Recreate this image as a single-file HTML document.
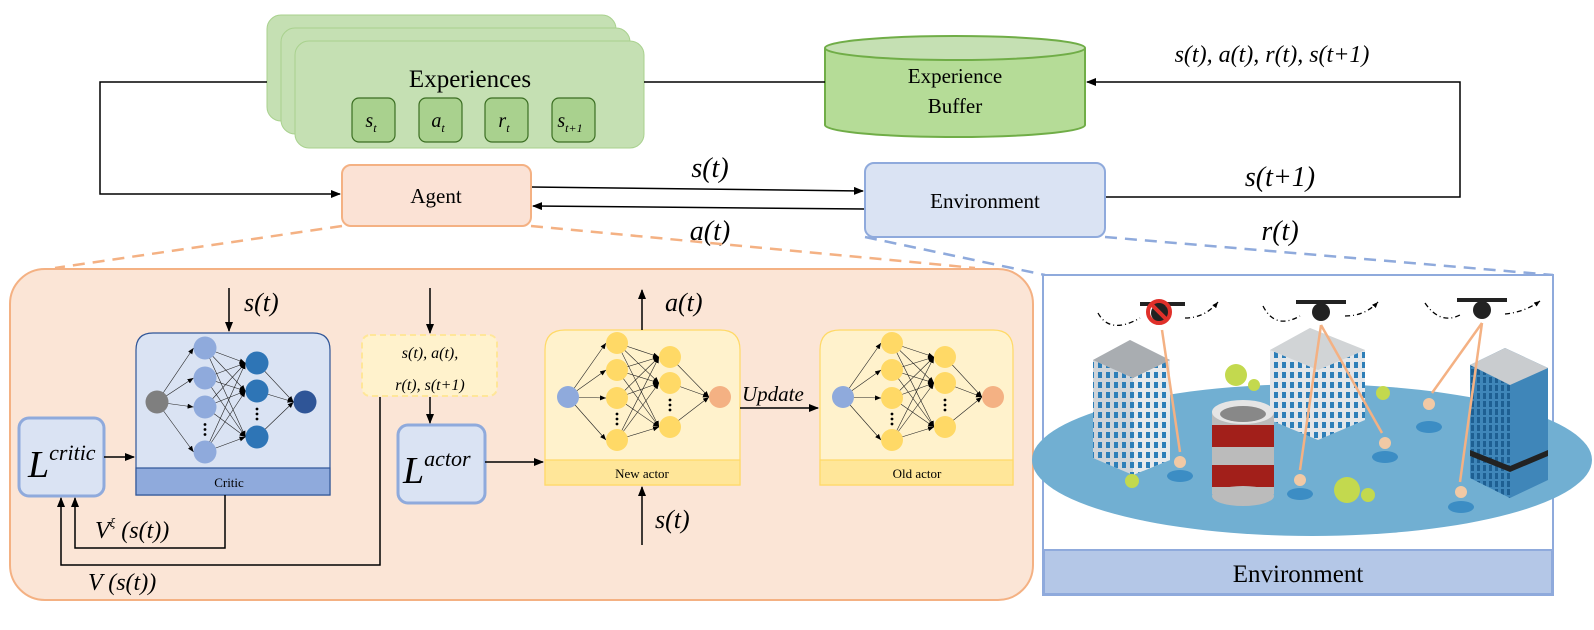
<!DOCTYPE html>
<html><head><meta charset="utf-8"><style>
body{margin:0;background:#fff}
svg{display:block;font-family:"Liberation Serif",serif}
.m{font-style:italic}
</style></head><body>
<svg id="s" width="1594" height="630" viewBox="0 0 1594 630" xmlns="http://www.w3.org/2000/svg">
<defs>
<marker id="a" markerWidth="10" markerHeight="8" refX="9" refY="4" orient="auto" markerUnits="userSpaceOnUse"><path d="M0,0L10,4L0,8z" fill="#000"/></marker>
<marker id="sa" markerWidth="6" markerHeight="5" refX="6" refY="2.5" orient="auto" markerUnits="userSpaceOnUse"><path d="M0,0L6,2.5L0,5z" fill="#000"/></marker>
<pattern id="win" width="8" height="10" patternUnits="userSpaceOnUse"><rect x="2" y="2" width="4" height="6" fill="#2e7fb8"/></pattern>
<pattern id="win2" width="6" height="8" patternUnits="userSpaceOnUse"><rect x="1" y="1" width="3" height="6" fill="#1e5f92"/></pattern>
</defs>
<!-- Experiences -->
<rect x="267" y="15" width="349" height="106" rx="14" fill="#c5e0b3" stroke="#a9d18e"/>
<rect x="281" y="28" width="349" height="106" rx="14" fill="#c5e0b3" stroke="#a9d18e"/>
<rect x="295" y="41" width="349" height="107" rx="14" fill="#c5e0b3" stroke="#a9d18e"/>
<text x="470" y="87" font-size="25" text-anchor="middle">Experiences</text>
<g fill="#a9d18e" stroke="#3b6e22" stroke-width="1.2">
<rect x="352" y="98" width="43" height="44" rx="7"/><rect x="419" y="98" width="43" height="44" rx="7"/>
<rect x="485" y="98" width="43" height="44" rx="7"/><rect x="552" y="98" width="43" height="44" rx="7"/></g>
<g class="m" font-size="20" text-anchor="middle">
<text x="371" y="127">s<tspan font-size="12" dy="5">t</tspan></text>
<text x="438" y="127">a<tspan font-size="12" dy="5">t</tspan></text>
<text x="504" y="127">r<tspan font-size="12" dy="5">t</tspan></text>
<text x="570" y="127">s<tspan font-size="12" dy="5">t+1</tspan></text></g>
<!-- Buffer cylinder -->
<path d="M825,48 L825,125 A130,12 0 0 0 1085,125 L1085,48" fill="#b5dc97" stroke="#70ad47" stroke-width="2"/>
<ellipse cx="955" cy="48" rx="130" ry="12" fill="#c5e0b3" stroke="#70ad47" stroke-width="2"/>
<text x="955" y="83" font-size="21" text-anchor="middle">Experience</text>
<text x="955" y="113" font-size="21" text-anchor="middle">Buffer</text>
<!-- top lines -->
<g stroke="#000" stroke-width="1.5" fill="none">
<polyline points="267,82 100,82 100,194 340,194" marker-end="url(#a)"/>
<line x1="825" y1="82" x2="644" y2="82"/>
<polyline points="1105,197 1460,197 1460,82 1087,82" marker-end="url(#a)"/>
<line x1="531" y1="187" x2="863" y2="191" marker-end="url(#a)"/>
<line x1="865" y1="209" x2="533" y2="206" marker-end="url(#a)"/>
</g>
<text x="1272" y="62" font-size="24" class="m" text-anchor="middle">s(t), a(t), r(t), s(t+1)</text>
<text x="710" y="177" font-size="28" class="m" text-anchor="middle">s(t)</text>
<text x="710" y="240" font-size="28" class="m" text-anchor="middle">a(t)</text>
<text x="1280" y="186" font-size="28" class="m" text-anchor="middle">s(t+1)</text>
<text x="1280" y="240" font-size="28" class="m" text-anchor="middle">r(t)</text>
<!-- Agent/Env -->
<rect x="342" y="165" width="189" height="61" rx="9" fill="#fbe2d5" stroke="#f4b183" stroke-width="2"/>
<text x="436" y="203" font-size="21" text-anchor="middle">Agent</text>
<rect x="865" y="163" width="240" height="74" rx="9" fill="#dae3f3" stroke="#8faadc" stroke-width="2"/>
<text x="985" y="208" font-size="21" text-anchor="middle">Environment</text>
<g stroke-width="2.5" stroke-dasharray="12,8" fill="none">
<line x1="342" y1="226" x2="55" y2="268" stroke="#f4b183"/>
<line x1="531" y1="226" x2="975" y2="268" stroke="#f4b183"/>
<line x1="865" y1="237" x2="1045" y2="275" stroke="#8faadc"/>
<line x1="1105" y1="237" x2="1553" y2="275" stroke="#8faadc"/>
</g>
<!-- Agent detail -->
<rect x="10" y="269" width="1023" height="331" rx="35" fill="#fbe5d6" stroke="#f4b183" stroke-width="2"/>
<path d="M136,495 L136,350 Q136,333 153,333 L313,333 Q330,333 330,350 L330,495Z" fill="#dae3f3" stroke="#2f5597" stroke-width="1.2"/>
<rect x="136" y="468" width="194" height="27" fill="#8faadc" stroke="#2f5597" stroke-width="1.2"/>
<text x="229" y="487" font-size="13" text-anchor="middle">Critic</text>
<path d="M545,485 L545,350 Q545,330 565,330 L720,330 Q740,330 740,350 L740,485Z" fill="#fff2cc" stroke="#ffd966" stroke-width="1.2"/>
<rect x="545" y="460" width="195" height="25" fill="#ffe699" stroke="#ffd966" stroke-width="1.2"/>
<text x="642" y="478" font-size="13" text-anchor="middle">New actor</text>
<path d="M820,485 L820,350 Q820,330 840,330 L993,330 Q1013,330 1013,350 L1013,485Z" fill="#fff2cc" stroke="#ffd966" stroke-width="1.2"/>
<rect x="820" y="460" width="193" height="25" fill="#ffe699" stroke="#ffd966" stroke-width="1.2"/>
<text x="917" y="478" font-size="13" text-anchor="middle">Old actor</text>
<g id="nets"></g>
<rect x="19" y="418" width="85" height="78" rx="10" fill="#dae3f3" stroke="#8faadc" stroke-width="3"/>
<text x="28" y="477" font-size="38" class="m">L<tspan font-size="22" dy="-17">critic</tspan></text>
<rect x="398" y="425" width="87" height="78" rx="10" fill="#dae3f3" stroke="#8faadc" stroke-width="3"/>
<text x="403" y="483" font-size="38" class="m">L<tspan font-size="22" dy="-17">actor</tspan></text>
<rect x="362" y="335" width="135" height="61" rx="8" fill="#fff2cc" stroke="#ffe699" stroke-width="2" stroke-dasharray="6,4"/>
<text x="430" y="358" font-size="16" class="m" text-anchor="middle">s(t), a(t),</text>
<text x="430" y="390" font-size="16" class="m" text-anchor="middle">r(t), s(t+1)</text>
<g stroke="#000" stroke-width="1.5" fill="none">
<line x1="229" y1="288" x2="229" y2="331" marker-end="url(#a)"/>
<line x1="430" y1="288" x2="430" y2="333" marker-end="url(#a)"/>
<line x1="430" y1="397" x2="430" y2="423" marker-end="url(#a)"/>
<line x1="104" y1="457" x2="134" y2="457" marker-end="url(#a)"/>
<polyline points="225,495 225,548 75,548 75,498" marker-end="url(#a)"/>
<polyline points="380,397 380,565 61,565 61,498" marker-end="url(#a)"/>
<line x1="485" y1="462" x2="543" y2="462" marker-end="url(#a)"/>
<line x1="642" y1="330" x2="642" y2="290" marker-end="url(#a)"/>
<line x1="642" y1="545" x2="642" y2="487" marker-end="url(#a)"/>
<line x1="740" y1="408" x2="818" y2="408" marker-end="url(#a)"/>
</g>
<text x="244" y="311" font-size="26" class="m">s(t)</text>
<text x="665" y="311" font-size="26" class="m">a(t)</text>
<text x="655" y="528" font-size="26" class="m">s(t)</text>
<text x="742" y="401" font-size="21" class="m">Update</text>
<text x="95" y="538" font-size="24" class="m">V<tspan font-size="13" dy="-11">ξ</tspan><tspan dy="11"> (s(t))</tspan></text>
<text x="88" y="590" font-size="24" class="m">V (s(t))</text>
<!-- Environment panel -->
<rect x="1043" y="275" width="510" height="320" fill="#fff" stroke="#8faadc" stroke-width="2"/>
<rect x="1044" y="550" width="508" height="44" fill="#b4c7e7" stroke="#8faadc" stroke-width="2"/>
<text x="1298" y="582" font-size="25" text-anchor="middle">Environment</text>
<ellipse cx="1312" cy="460" rx="280" ry="76" fill="#71afd2"/>
<!-- buildings -->
<polygon points="1093,360 1130,340 1170,360 1170,460 1133,475 1093,458" fill="#cfd4d9"/>
<polygon points="1093,360 1133,378 1133,475 1093,458" fill="url(#win)"/>
<polygon points="1133,378 1170,360 1170,460 1133,475" fill="#e8eaec"/>
<polygon points="1133,378 1170,360 1170,460 1133,475" fill="url(#win)"/>
<polygon points="1093,360 1130,340 1170,360 1133,378" fill="#a9adb1"/>
<polygon points="1270,350 1310,328 1365,350 1365,420 1318,440 1270,420" fill="#e3e6e9"/>
<polygon points="1270,350 1318,370 1318,440 1270,420" fill="url(#win)"/>
<polygon points="1318,370 1365,350 1365,420 1318,440" fill="url(#win)"/>
<polygon points="1270,350 1310,328 1365,350 1318,370" fill="#d1d4d6"/>
<polygon points="1470,365 1505,348 1548,368 1548,480 1510,498 1470,478" fill="#3f86b9"/>
<polygon points="1470,365 1510,385 1510,498 1470,478" fill="url(#win2)"/>
<polygon points="1470,450 1510,466 1548,450 1548,456 1510,472 1470,456" fill="#222"/>
<polygon points="1470,365 1505,348 1548,368 1510,385" fill="#c9cccf"/>
<rect x="1212" y="412" width="62" height="82" fill="#bbb"/>
<rect x="1212" y="425" width="62" height="22" fill="#a21f1a"/>
<rect x="1212" y="465" width="62" height="22" fill="#a21f1a"/>
<ellipse cx="1243" cy="496" rx="31" ry="10" fill="#bbb"/>
<ellipse cx="1243" cy="412" rx="31" ry="12" fill="#e5e5e5"/>
<ellipse cx="1243" cy="414" rx="23" ry="8" fill="#888"/>
<!-- trees -->
<g fill="#c3d94e"><circle cx="1236" cy="375" r="11"/><circle cx="1254" cy="385" r="6"/><circle cx="1383" cy="393" r="7"/><circle cx="1132" cy="481" r="7"/><circle cx="1347" cy="490" r="13"/><circle cx="1368" cy="495" r="7"/></g>
<!-- people -->
<g fill="#3c8dc4"><ellipse cx="1180" cy="476" rx="13" ry="6"/><ellipse cx="1300" cy="494" rx="13" ry="6"/><ellipse cx="1385" cy="457" rx="13" ry="6"/><ellipse cx="1429" cy="427" rx="13" ry="6"/><ellipse cx="1461" cy="507" rx="13" ry="6"/></g>
<g fill="#f1c9a5"><circle cx="1180" cy="462" r="6"/><circle cx="1300" cy="480" r="6"/><circle cx="1385" cy="443" r="6"/><circle cx="1429" cy="404" r="6"/><circle cx="1461" cy="492" r="6"/></g>
<!-- beams -->
<g stroke="#f4b183" stroke-width="2.5"><line x1="1162" y1="330" x2="1180" y2="452"/><line x1="1321" y1="325" x2="1300" y2="470"/><line x1="1321" y1="325" x2="1382" y2="433"/><line x1="1482" y1="323" x2="1432" y2="393"/><line x1="1482" y1="323" x2="1460" y2="482"/></g>
<!-- drones -->
<g fill="#222"><rect x="1140" y="302" width="45" height="4"/><rect x="1296" y="300" width="50" height="4"/><rect x="1457" y="298" width="50" height="4"/>
<circle cx="1160" cy="313" r="9"/><circle cx="1321" cy="312" r="9"/><circle cx="1482" cy="310" r="9"/></g>
<circle cx="1159" cy="312" r="11" fill="none" stroke="#e0302a" stroke-width="4"/><line x1="1151" y1="304" x2="1167" y2="320" stroke="#e0302a" stroke-width="4"/>
<g stroke="#000" stroke-width="1.3" stroke-dasharray="5,3,1,3" fill="none">
<path d="M1098,313 Q1110,335 1140,318" /><path d="M1185,318 Q1205,318 1218,302" marker-end="url(#sa)"/>
<path d="M1263,306 Q1275,330 1300,316"/><path d="M1345,316 Q1365,316 1378,302" marker-end="url(#sa)"/>
<path d="M1425,303 Q1440,325 1460,315"/><path d="M1505,314 Q1525,312 1540,301" marker-end="url(#sa)"/>
</g>
</svg>
<script>
var g=document.getElementById('nets'),NS='http://www.w3.org/2000/svg';
function el(n,a){var e=document.createElementNS(NS,n);for(var k in a)e.setAttribute(k,a[k]);g.appendChild(e);return e;}
function net(inp,ic,h1x,h1,c1,h2x,h2,c2,out,oc,r){
 var L=[[inp],h1.map(function(y){return[h1x,y]}),h2.map(function(y){return[h2x,y]}),[out]];
 for(var i=0;i<3;i++)L[i].forEach(function(p){L[i+1].forEach(function(q){el('line',{x1:p[0],y1:p[1],x2:q[0]-r,y2:q[1],stroke:'#222','stroke-width':0.6,'marker-end':'url(#sa)'});});});
 var cs=[ic,c1,c2,oc];
 L.forEach(function(l,i){l.forEach(function(p){el('circle',{cx:p[0],cy:p[1],r:r,fill:cs[i]});});});
 var dy1=(h1[2]+h1[3])/2,dy2=(h2[1]+h2[2])/2;
 [[h1x,dy1],[h2x,dy2]].forEach(function(p){for(var k=-1;k<=1;k++)el('circle',{cx:p[0],cy:p[1]+k*5,r:1.4,fill:'#000'});});
}
net([157,402],'#7f7f7f',205,[348,378,407,452],'#8faadc',257,[363,391,437],'#2e75b6',[305,402],'#2f5597',11.5);
net([568,397],'#8faadc',617,[343,370,398,440],'#ffd966',670,[357,383,427],'#ffd966',[720,397],'#f4b183',11);
net([843,397],'#8faadc',892,[343,370,398,440],'#ffd966',945,[357,383,427],'#ffd966',[993,397],'#f4b183',11);
</script>
</body></html>
